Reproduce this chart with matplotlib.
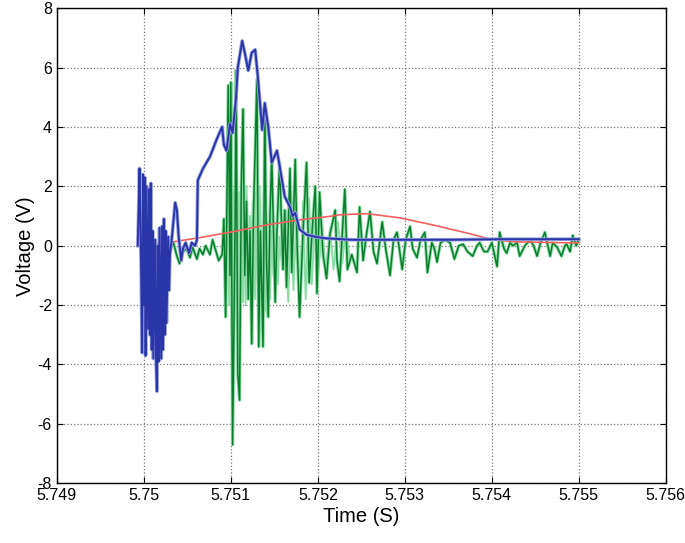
import matplotlib
matplotlib.use('Agg')
from matplotlib import pyplot as plt

plt.rcParams['font.family'] = ['Liberation Sans', 'DejaVu Sans']
plt.rcParams['axes.unicode_minus'] = False

# values (time in s, voltage in V)
t_blue = [5.74993, 5.74994, 5.74995, 5.74997, 5.74998, 5.74999, 5.75000, 5.75001, 5.75002,
          5.75003, 5.75005, 5.75006, 5.75007, 5.75008, 5.75009, 5.75010, 5.75011, 5.75013,
          5.75014, 5.75015, 5.75016, 5.75017, 5.75018, 5.75020, 5.75021, 5.75022, 5.75023,
          5.75024, 5.75025, 5.75026, 5.75028, 5.75029, 5.75030, 5.75032, 5.75036, 5.75038,
          5.75040, 5.75043, 5.75045, 5.75048, 5.75052, 5.75055, 5.75059, 5.75061, 5.75062,
          5.75068, 5.75076, 5.75084, 5.75090, 5.75092, 5.75095, 5.75099, 5.75102, 5.75106,
          5.75108, 5.75113, 5.75116, 5.75120, 5.75124, 5.75128, 5.75131, 5.75136, 5.75139,
          5.75143, 5.75147, 5.75153, 5.75156, 5.75160, 5.75162, 5.75168, 5.75171, 5.75174,
          5.75179, 5.75187, 5.75197, 5.75209, 5.75239, 5.75294, 5.75352, 5.75409, 5.75500]
v_blue = [0.0, 1.2, 2.6, -1.0, -3.6, 2.4, -2.0, 2.3, -3.7,
          2.0, -2.8, 1.9, -3.0, 2.1, -3.5, 0.5, -3.8, 0.2,
          -3.8, -4.9, 0.0, -3.9, 0.6, -3.8, 0.65, -3.5, 0.9,
          -3.0, 0.5, -2.6, 0.3, -1.5, -0.3, 0.2, 1.45, 1.2,
          0.3, -0.5, -0.1, 0.1, -0.25, 0.1, 0.0, 0.2, 2.2,
          2.6, 3.0, 3.6, 4.0, 3.4, 3.2, 4.1, 3.8, 5.0,
          6.0, 6.9, 6.5, 5.9, 6.5, 6.6, 5.7, 3.9, 4.8,
          4.0, 2.8, 3.2, 2.7, 2.0, 1.65, 1.3, 1.0, 1.1,
          0.55, 0.37, 0.3, 0.25, 0.2, 0.2, 0.2, 0.22, 0.22]

t_green = [5.74993, 5.75001, 5.75007, 5.75013, 5.75018, 5.75024, 5.75030, 5.75034, 5.75038,
           5.75041, 5.75045, 5.75049, 5.75053, 5.75056, 5.75061, 5.75064, 5.75068, 5.75071,
           5.75076, 5.75079, 5.75083, 5.75086, 5.75090, 5.75092, 5.75094, 5.75097, 5.75099,
           5.75100, 5.75102, 5.75105, 5.75106, 5.75108, 5.75110, 5.75112, 5.75114, 5.75116,
           5.75118, 5.75120, 5.75122, 5.75124, 5.75126, 5.75130, 5.75132, 5.75134, 5.75137,
           5.75139, 5.75141, 5.75143, 5.75145, 5.75147, 5.75151, 5.75153, 5.75156, 5.75160,
           5.75162, 5.75164, 5.75168, 5.75170, 5.75174, 5.75176, 5.75179, 5.75183, 5.75187,
           5.75190, 5.75193, 5.75197, 5.75199, 5.75202, 5.75206, 5.75210, 5.75214, 5.75220,
           5.75222, 5.75225, 5.75231, 5.75234, 5.75239, 5.75245, 5.75248, 5.75252, 5.75256,
           5.75260, 5.75264, 5.75268, 5.75274, 5.75278, 5.75283, 5.75287, 5.75291, 5.75297,
           5.75301, 5.75306, 5.75309, 5.75314, 5.75318, 5.75323, 5.75326, 5.75331, 5.75334,
           5.75337, 5.75341, 5.75346, 5.75352, 5.75357, 5.75362, 5.75367, 5.75372, 5.75378,
           5.75383, 5.75386, 5.75391, 5.75395, 5.75400, 5.75406, 5.75409, 5.75414, 5.75417,
           5.75421, 5.75424, 5.75429, 5.75432, 5.75438, 5.75444, 5.75448, 5.75452, 5.75456,
           5.75461, 5.75467, 5.75470, 5.75475, 5.75480, 5.75484, 5.75486, 5.75490, 5.75493,
           5.75497, 5.75500]
v_green = [0.0, -0.1, 0.0, -0.2, -0.05, -0.2, -0.1, 0.1, -0.35,
           -0.6, -0.2, -0.1, -0.4, -0.05, -0.45, -0.1, -0.3, 0.0,
           -0.3, 0.2, -0.2, -0.5, -0.3, 0.9, -2.4, 5.4, -1.0,
           5.5, -6.7, 1.0, 5.9, -4.3, -5.2, 2.0, 4.6, -1.0,
           1.5, -1.8, 0.5, -3.3, 1.0, 5.6, -3.4, 0.5, -3.4,
           4.5, -0.5, -2.4, 1.0, 3.0, -1.9, 0.5, 2.8, -0.8,
           1.2, -1.4, 2.6, -0.9, 2.9, 0.2, -2.4, 0.5, 2.8,
           -1.25, 0.3, 2.0, -1.6, 1.8, -0.3, -1.1, 0.4, 1.2,
           -0.5, -1.2, 1.9, -0.8, -0.3, -0.9, 1.3, -0.5, 0.4,
           1.15, -0.2, -0.6, 0.8, -0.1, -1.0, 0.2, 0.45, -0.8,
           0.2, 0.65, -0.1, -0.4, 0.2, 0.45, -0.9, 0.1, -0.1,
           -0.55, 0.1, 0.2, 0.1, -0.45, 0.0, 0.05, -0.2, -0.35,
           0.0, 0.1, -0.2, -0.2, 0.1, -0.7, 0.45, -0.1, -0.25,
           0.1, 0.0, 0.1, -0.35, 0.0, 0.2, 0.0, -0.35, 0.1,
           0.45, -0.35, 0.1, -0.05, -0.35, 0.0, 0.05, -0.2, 0.35,
           0.0, 0.2]

# faint fast ripple seen as a pale green band inside the burst
t_green_pale = [5.75093, 5.75095, 5.75098, 5.75099, 5.75101, 5.75102, 5.75103, 5.75105, 5.75107,
                5.75109, 5.75110, 5.75113, 5.75114, 5.75115, 5.75117, 5.75118, 5.75121, 5.75122,
                5.75124, 5.75125, 5.75128, 5.75129, 5.75131, 5.75133, 5.75136, 5.75138, 5.75140,
                5.75143, 5.75145, 5.75147, 5.75149, 5.75152, 5.75154, 5.75156, 5.75159, 5.75162,
                5.75166, 5.75169, 5.75172, 5.75176, 5.75179, 5.75183, 5.75186, 5.75190, 5.75193,
                5.75197, 5.75200, 5.75205, 5.75209, 5.75214, 5.75218, 5.75223, 5.75228, 5.75232,
                5.75237]
v_green_pale = [-1.2, 1.5, -2.0, 2.0, -3.0, 1.9, -2.5, 2.2, -1.9,
                1.8, -5.2, 1.9, -1.9, 1.5, -2.0, 2.0, -1.5, 1.0,
                -1.2, 1.5, -1.8, 1.8, -1.3, 2.0, -0.8, 1.2, -2.2,
                0.8, -1.8, 0.5, -1.0, 0.6, -1.3, 0.3, -0.8, 0.9,
                -1.9, 1.0, -1.5, 1.4, -2.0, 1.5, -1.8, 1.6, -1.3,
                1.0, -1.2, 0.8, -1.0, 0.6, -0.8, 0.8, -0.6, 0.5,
                -0.5]

t_red = [5.74993, 5.75003, 5.75027, 5.75064, 5.75102, 5.75141, 5.75179, 5.75217, 5.75225,
         5.75256, 5.75294, 5.75332, 5.75371, 5.75401, 5.75428, 5.75485, 5.75500]
v_red = [0.03, 0.05, 0.1, 0.27, 0.47, 0.7, 0.87, 1.0, 1.04,
         1.08, 0.94, 0.7, 0.43, 0.2, 0.13, 0.1, 0.1]

fig = plt.figure(figsize=(6.85, 5.43), dpi=100)
ax = fig.add_axes([0.083, 0.11, 0.889, 0.875])

ax.plot(t_green_pale, v_green_pale, color='#8ddca6', linewidth=1.4, zorder=2)
ax.plot(t_green, v_green, color='#8ddca6', linewidth=2.4, zorder=2)
ax.plot(t_green, v_green, color='#0a7d2c', linewidth=1.1, zorder=3)
ax.plot(t_red, v_red, color='#f26060', linewidth=1.2, zorder=4)
ax.plot(t_blue, v_blue, color='#9aa2e0', linewidth=2.6, zorder=5)
ax.plot(t_blue, v_blue, color='#2a35a8', linewidth=1.4, zorder=6)

ax.set_xlim(5.749, 5.756)
ax.set_ylim(-8, 8)
ax.set_xticks([5.749, 5.75, 5.751, 5.752, 5.753, 5.754, 5.755, 5.756])
ax.set_xticklabels(['5.749', '5.75', '5.751', '5.752', '5.753', '5.754', '5.755', '5.756'])
ax.set_yticks([-8, -6, -4, -2, 0, 2, 4, 6, 8])
ax.tick_params(direction='in', top=True, right=True, labelsize=11.5, length=4)
ax.grid(True, linestyle=':', color='#777777', linewidth=0.9)
ax.set_axisbelow(True)
for s in ax.spines.values():
    s.set_linewidth(1.0)
ax.set_xlabel('Time (S)', fontsize=14.5, labelpad=3)
ax.set_ylabel('Voltage (V)', fontsize=14.5, labelpad=2)

fig.savefig('out.png', dpi=100)
